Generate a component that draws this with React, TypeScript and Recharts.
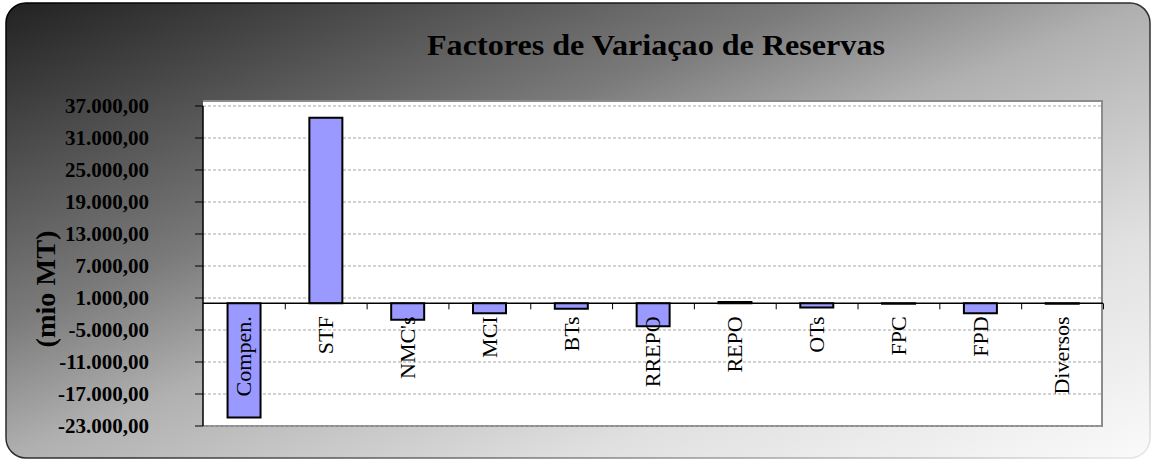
import React from "react";
import {
  BarChart,
  Bar,
  CartesianGrid,
  XAxis,
  YAxis,
  ReferenceLine,
  LabelList,
} from "recharts";

const categories = ["Compen.", "STF", "NMC's", "MCI", "BTs", "RREPO", "REPO", "OTs", "FPC", "FPD", "Diversos"];
const reserves = [-21400, 34800, -3100, -1850, -1000, -4300, 250, -800, -100, -1850, -100];
const yTicks = [37000, 31000, 25000, 19000, 13000, 7000, 1000, -5000, -11000, -17000, -23000];

const title = "Factores de Variaçao de Reservas";
const yTitle = "(mio MT)";

const data = categories.map((name, i) => ({ name, value: reserves[i] }));

const serif = '"Liberation Serif", "Times New Roman", serif';

// 37000 -> "37.000,00"
const fmt = (v: number) => {
  const parts = Math.abs(v).toFixed(2).split(".");
  const int = parts[0].replace(/\B(?=(\d{3})+(?!\d))/g, ".");
  return (v < 0 ? "-" : "") + int + "," + parts[1];
};

// category name under the zero line + excel style tick mark on the axis
const CatLabel = (props: any) => {
  const vb = props.viewBox || props;
  const x = Number(vb.x);
  const y = Number(vb.y);
  const w = Number(vb.width);
  const h = Number(vb.height);
  const val = Number(props.value);
  const cx = x + w / 2;
  const zeroY = val >= 0 ? Math.max(y, y + h) : Math.min(y, y + h);
  const band = w / 0.4;
  const bx = cx + band / 2;
  const name = categories[props.index] ?? "";
  return (
    <g>
      <line x1={bx} y1={zeroY} x2={bx} y2={zeroY + 6} stroke="#000" strokeWidth={1} />
      <text
        x={cx}
        y={zeroY + 13}
        dy="0.33em"
        transform={`rotate(-90 ${cx} ${zeroY + 13})`}
        textAnchor="end"
        fontFamily={serif}
        fontSize={22}
        fill="#000"
      >
        {name}
      </text>
    </g>
  );
};

const YTitle = (props: any) => {
  const vb = props.viewBox || {};
  const x = vb.x + 46;
  const y = vb.y + vb.height / 2 + 23;
  return (
    <text
      x={x}
      y={y}
      transform={`rotate(-90 ${x} ${y})`}
      textAnchor="middle"
      dy="0.35em"
      fontFamily={serif}
      fontWeight="bold"
      fontSize={27}
      textLength={117}
      lengthAdjust="spacingAndGlyphs"
      fill="#000"
    >
      {yTitle}
    </text>
  );
};

export default function App() {
  return (
    <div style={{ position: "absolute", left: 0, top: 0, width: 1152, height: 460 }}>
      <svg width={1152} height={460} style={{ position: "absolute", left: 0, top: 0 }}>
        <defs>
          <linearGradient id="bg" x1="0" y1="0" x2="1" y2="1">
            <stop offset="0%" stopColor="#222" />
            <stop offset="35%" stopColor="#7a7a7a" />
            <stop offset="50%" stopColor="#b0b0b0" />
            <stop offset="75%" stopColor="#e0e0e0" />
            <stop offset="100%" stopColor="#fafafa" />
          </linearGradient>
          <linearGradient id="edge" x1="0" y1="0" x2="1" y2="1">
            <stop offset="0%" stopColor="#000" />
            <stop offset="55%" stopColor="#333" />
            <stop offset="100%" stopColor="#e8e8e8" />
          </linearGradient>
        </defs>
        <rect x={6} y={3} width={1144} height={455} rx={20} ry={20} fill="url(#bg)" stroke="url(#edge)" strokeWidth={1.5} />
        <text
          x={656}
          y={55}
          textAnchor="middle"
          fontFamily={serif}
          fontWeight="bold"
          fontSize={30}
          textLength={458}
          lengthAdjust="spacingAndGlyphs"
          fill="#000"
        >
          {title}
        </text>
      </svg>
      <div
        style={{
          position: "absolute",
          left: 203,
          top: 100,
          width: 900,
          height: 327,
          boxSizing: "border-box",
          background: "#fff",
          borderTop: "2px solid #8c8c8c",
          borderRight: "2px solid #8c8c8c",
          borderBottom: "2px solid #8c8c8c",
        }}
      />
      <div style={{ position: "absolute", left: 0, top: 0 }}>
        <BarChart
          width={1152}
          height={460}
          data={data}
          margin={{ top: 106, right: 49, bottom: 34, left: 0 }}
          barCategoryGap="30%"
        >
          <CartesianGrid vertical={false} stroke="#a6a6a6" strokeDasharray="3 2" />
          <XAxis dataKey="name" hide />
          <YAxis
            width={203}
            domain={[-23000, 37000]}
            ticks={yTicks}
            interval={0}
            tickFormatter={fmt}
            tickSize={8}
            tickMargin={46}
            axisLine={{ stroke: "#000", strokeWidth: 1.5 }}
            tickLine={{ stroke: "#000", strokeWidth: 1 }}
            tick={{ fill: "#000", fontSize: 21, fontWeight: "bold", fontFamily: serif }}
            label={<YTitle />}
          />
          <ReferenceLine y={0} stroke="#000" strokeWidth={1.5} />
          <Bar dataKey="value" fill="#9999ff" stroke="#000" strokeWidth={2} isAnimationActive={false}>
            <LabelList dataKey="value" content={<CatLabel />} />
          </Bar>
        </BarChart>
      </div>
    </div>
  );
}
